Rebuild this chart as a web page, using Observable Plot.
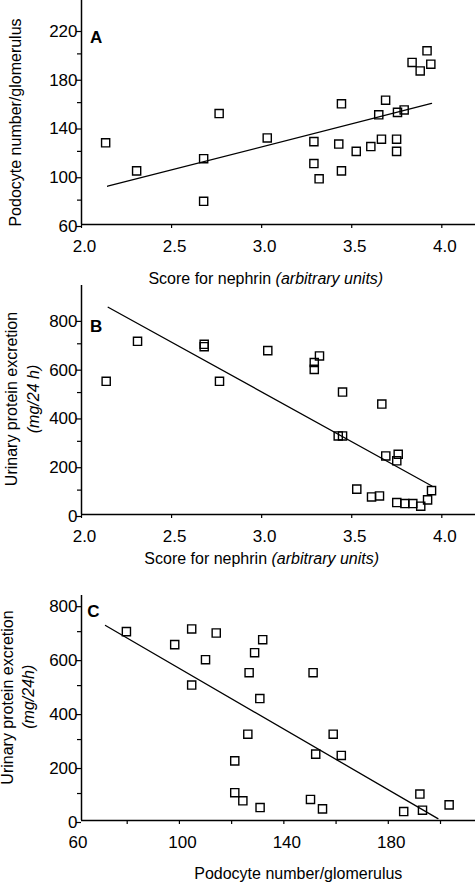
<!DOCTYPE html>
<html><head><meta charset="utf-8">
<script src="https://cdn.jsdelivr.net/npm/d3@7"></script>
<script src="https://cdn.jsdelivr.net/npm/@observablehq/plot@0.6"></script>
<style>
body{margin:0;background:#fff;}
#wrap{position:relative;width:475px;height:882px;overflow:hidden;font-family:"Liberation Sans",Arial,Helvetica,sans-serif;background:#fff;}
#wrap svg{position:absolute;left:0;overflow:visible;}
</style></head><body><div id="wrap"></div>
<script>
// Panel A: nephrin score vs podocyte number
const scoreA = [2.134,2.306,2.678,2.678,2.764,3.031,3.290,3.290,3.319,3.443,3.428,3.443,3.525,3.606,3.665,3.650,3.688,3.749,3.749,3.754,3.791,3.835,3.880,3.918,3.939];
const podocyteA = [127,104,114,79,151,131,128,110,97.5,159,126,104,120,124,130,150,162,130,120,152,154,193,186,202.5,191.5];
const fitAx = [2.145, 3.943];
const fitAy = [91.4, 159.3];

// Panel B: nephrin score vs urinary protein excretion
const scoreB = [2.137,2.311,2.681,2.681,2.766,3.034,3.292,3.292,3.321,3.449,3.667,3.425,3.449,3.689,3.758,3.750,3.528,3.610,3.654,3.750,3.795,3.839,3.883,3.921,3.943];
const proteinB = [546,710,698,688,546,672,623,595,650,502,453,322,322,240,247,220,104,72,76,49,45,45,34,60,98];
const fitBx = [2.148, 3.945];
const fitBy = [850, 117];

// Panel C: podocyte number vs urinary protein excretion
const podocyteC = [79.7,98.2,104.7,104.7,110,114.1,131.9,128.8,126.7,130.8,151.2,126.2,158.9,152.2,162,121.2,121.2,124.3,130.9,150.2,154.8,185.9,192.1,193.1,203.3];
const proteinC = [700,652,710,502,596,695,670,622,548,452,548,320,320,246,241,221,103,73,48,78,43,33,98,38,58];
const fitCx = [71.7, 199];
const fitCy = [723, 7];

// Axis ticks
const scoreTicks = [2.0, 2.5, 3.0, 3.5, 4.0];
const podYMajor = [60, 100, 140, 180, 220];
const podYMinor = [80, 120, 160, 200];
const protMajor = [0, 200, 400, 600, 800];
const protMinor = [100, 300, 500, 700];
const podXMajor = [60, 100, 140, 180];
const podXMinor = [80, 100, 120, 140, 160, 180, 200];

// Text
const panelLetters = ["A", "B", "C"];
const labelScore = ["Score for nephrin ", "(arbitrary units)"];
const labelPodocyte = "Podocyte number/glomerulus";
const labelProtein = "Urinary protein excretion";
const unitsB = "(mg/24 h)";
const unitsC = "(mg/24h)";

const FONT = '"Liberation Sans", Arial, Helvetica, sans-serif';
const wrap = document.getElementById("wrap");

function panel({xs, ys, fx, fy, xDomain, yDomain, xTicksAll, xTicksLab, xFmt, yMajor, yMinor, height, marginBottom, top}) {
  const data = xs.map((x, i) => ({x, y: ys[i]}));
  const fit = fx.map((x, i) => ({x, y: fy[i]}));
  const p = Plot.plot({
    width: 475, height, marginLeft: 81, marginRight: 0, marginTop: 0, marginBottom,
    style: {fontFamily: FONT, fontSize: "17px", color: "#000", background: "transparent", overflow: "visible"},
    x: {domain: xDomain, axis: null, label: null},
    y: {domain: yDomain, axis: null, label: null},
    marks: [
      Plot.axisX({ticks: xTicksAll, tickSize: 4, tickFormat: () => "", strokeWidth: 1.2, label: null}),
      Plot.axisX({ticks: xTicksLab, tickSize: 0, tickPadding: 15.5, dx: 3, tickFormat: xFmt, fill: "#000", label: null}),
      Plot.axisY({ticks: yMinor, tickSize: 4, tickFormat: () => "", strokeWidth: 1.2, label: null}),
      Plot.axisY({ticks: yMajor, tickSize: 5, tickPadding: -1, dy: 2, tickFormat: d => String(d), fill: "#000", strokeWidth: 1.2, label: null}),
      Plot.ruleX([xDomain[0]], {stroke: "#000", strokeWidth: 1.5}),
      Plot.ruleY([yDomain[0]], {stroke: "#000", strokeWidth: 1.5}),
      Plot.line(fit, {x: "x", y: "y", stroke: "#000", strokeWidth: 1.3}),
      Plot.dot(data, {x: "x", y: "y", symbol: "square", r: 4.6, stroke: "#000", strokeWidth: 1.4, fill: "none"})
    ]
  });
  p.style.top = top + "px";
  wrap.appendChild(p);
  return d3.select(p);
}

function addText(svg, x, y, parts, opts = {}) {
  const t = svg.append("text")
    .attr("font-family", FONT)
    .attr("font-size", opts.size || 16)
    .attr("fill", "#000")
    .attr("text-anchor", opts.anchor || "middle")
    .attr("dy", opts.dy ?? "0.35em");
  if (opts.rotate) t.attr("transform", `translate(${x},${y}) rotate(-90)`);
  else t.attr("x", x).attr("y", y);
  if (opts.bold) t.attr("font-weight", "bold");
  parts.forEach(([s, italic]) => {
    const ts = t.append("tspan").text(s);
    if (italic) ts.attr("font-style", "italic");
  });
  return t;
}

// Panel A
const svgA = panel({xs: scoreA, ys: podocyteA, fx: fitAx, fy: fitAy,
  xDomain: [2.0, 4.187], yDomain: [60, 243.8], xTicksAll: scoreTicks, xTicksLab: scoreTicks,
  xFmt: d3.format(".1f"), yMajor: podYMajor, yMinor: podYMinor, height: 290, marginBottom: 66, top: 0});
addText(svgA, 90, 42.7, [[panelLetters[0], false]], {anchor: "start", dy: 0, bold: true, size: 17});
addText(svgA, 15, 122.5, [[labelPodocyte, false]], {rotate: true});
addText(svgA, 265.8, 278, [[labelScore[0], false], [labelScore[1], true]]);

// Panel B
const svgB = panel({xs: scoreB, ys: proteinB, fx: fitBx, fy: fitBy,
  xDomain: [2.0, 4.187], yDomain: [0, 939], xTicksAll: scoreTicks, xTicksLab: scoreTicks,
  xFmt: d3.format(".1f"), yMajor: protMajor, yMinor: protMinor, height: 290, marginBottom: 61, top: 285});
addText(svgB, 90, 46.7, [[panelLetters[1], false]], {anchor: "start", dy: 0, bold: true, size: 17});
addText(svgB, 11, 114, [[labelProtein, false]], {rotate: true});
addText(svgB, 33, 114, [[unitsB, true]], {rotate: true});
addText(svgB, 261.7, 273.3, [[labelScore[0], false], [labelScore[1], true]]);

// Panel C
const svgC = panel({xs: podocyteC, ys: proteinC, fx: fitCx, fy: fitCy,
  xDomain: [62.5, 213.4], yDomain: [0, 834], xTicksAll: podXMinor, xTicksLab: podXMajor,
  xFmt: d => String(d), yMajor: protMajor, yMinor: protMinor, height: 287, marginBottom: 62, top: 595});
addText(svgC, 87.3, 22.3, [[panelLetters[2], false]], {anchor: "start", dy: 0, bold: true, size: 17});
addText(svgC, 7, 102.5, [[labelProtein, false]], {rotate: true});
addText(svgC, 28, 101.7, [[unitsC, true]], {rotate: true});
addText(svgC, 298.3, 278, [[labelPodocyte, false]]);
</script></body></html>
